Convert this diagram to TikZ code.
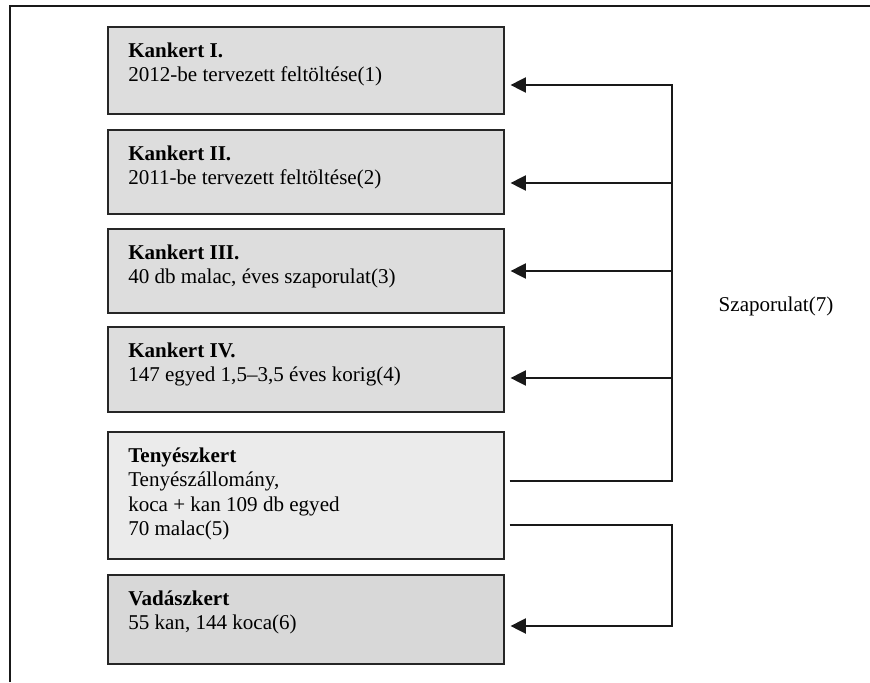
\documentclass[tikz,border=0pt]{standalone}
\usepackage{fontspec}
\setmainfont{Liberation Serif}
\usepackage{xcolor}
\usetikzlibrary{positioning, calc, arrows.meta}
\definecolor{kertgray}{HTML}{DDDDDD}
\definecolor{tenygray}{HTML}{EBEBEB}
\definecolor{vadgray}{HTML}{D8D8D8}

\begin{document}
\begin{tikzpicture}[x=0.75pt, y=-0.75pt,
  kert/.style={draw=black!85, line width=1.2pt, fill=kertgray, anchor=north west,
    minimum width=297pt, inner sep=0pt},
  kerttext/.style={anchor=north west, align=left, inner sep=0pt,
    font=\fontsize{15.8}{18.3}\selectfont},
  link/.style={line width=1pt, black!90},
  arr/.style={link, -{Triangle[length=11.5pt, width=11.5pt]}, shorten >=4.5pt}]
\useasboundingbox (0,0) rectangle (870,682);
\draw[line width=1.5pt, black!90] (10,682) -- (10,6) -- (870,6);

% boxes
\node[kert, minimum height=65.25pt] (k1) at (107,26) {};
\node[kert, minimum height=63pt] (k2) at (107,129) {};
\node[kert, minimum height=63pt] (k3) at (107,228) {};
\node[kert, minimum height=63.75pt] (k4) at (107,326) {};
\node[kert, fill=tenygray, minimum height=95.25pt] (t5) at (107,431) {};
\node[kert, fill=vadgray, minimum height=66.75pt] (v6) at (107,574) {};

\node[kerttext] (k1t) at ($(k1.north west)+(21,14)$) {\strut\textbf{Kankert I.}\\2012-be tervezett feltöltése(1)};
\node[kerttext] (k2t) at ($(k2.north west)+(21,14)$) {\strut\textbf{Kankert II.}\\2011-be tervezett feltöltése(2)};
\node[kerttext] (k3t) at ($(k3.north west)+(21,14)$) {\strut\textbf{Kankert III.}\\40 db malac, éves szaporulat(3)};
\node[kerttext] (k4t) at ($(k4.north west)+(21,14)$) {\strut\textbf{Kankert IV.}\\147 egyed 1,5–3,5 éves korig(4)};
\node[kerttext] (t5t) at ($(t5.north west)+(21,14)$) {\strut\textbf{Tenyészkert}\\Tenyészállomány,\\koca + kan 109 db egyed\\70 malac(5)};
\node[kerttext] (v6t) at ($(v6.north west)+(21,14)$) {\strut\textbf{Vadászkert}\\55 kan, 144 koca(6)};

\node[font=\fontsize{15.8}{18.3}\selectfont] (szap) at (776,306) {Szaporulat(7)};

% connectors
\coordinate (c1) at (672,85);
\coordinate (c2) at (672,183);
\coordinate (c3) at (672,271);
\coordinate (c4) at (672,378);
\coordinate (c5) at (672,481);
\coordinate (d1) at (672,525);
\coordinate (d2) at (672,626);
\draw[arr, shorten <=3.75pt] (t5.east |- c5) -- (c5) -- (c1) -- (k1.east |- c1);
\foreach \n in {2,3,4}
  \draw[arr] (c\n) -- (k\n.east |- c\n);
\draw[arr, shorten <=3.75pt] (t5.east |- d1) -- (d1) -- (d2) -- (v6.east |- d2);
\end{tikzpicture}
\end{document}
